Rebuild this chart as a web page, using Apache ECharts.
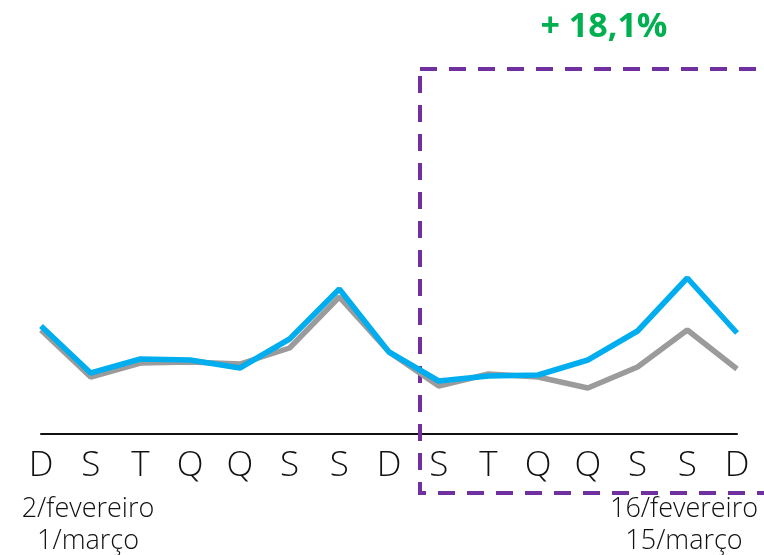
<!DOCTYPE html>
<html><head><meta charset="utf-8">
<script src="https://cdn.jsdelivr.net/npm/echarts@6/dist/echarts.min.js"></script>
<style>html,body{margin:0;padding:0;background:#fff}#c{width:764px;height:555px}</style>
</head><body><div id="c"></div>
<script>
const categories = ['D','S','T','Q','Q','S','S','D','S','T','Q','Q','S','S','D'];
const seriesCurrent = [108, 61, 75, 74, 66, 95, 145, 82, 53, 58, 59, 74, 103, 156, 101];
const seriesPrevious = [104, 57, 71, 72, 70, 86, 137, 82, 48, 60, 57, 46, 67, 104, 65];
const growthLabel = '+ 18,1%';
const startLabel = ['2/fevereiro', '1/março'];
const endLabel = ['16/fevereiro', '15/março'];

const chart = echarts.init(document.getElementById('c'), null, {renderer: 'canvas'});
const font = "'Open Sans', 'Lato', sans-serif";
const small = "300 27px 'Open Sans', sans-serif";
chart.setOption({
  animation: false,
  grid: {left: 41, right: 27, top: 234, bottom: 121},
  xAxis: {
    type: 'category', data: categories, boundaryGap: false,
    axisLine: {lineStyle: {color: '#111', width: 2}},
    axisTick: {show: false},
    axisLabel: {color: '#111', fontSize: 35, fontWeight: 300, fontFamily: font, margin: 15, interval: 0}
  },
  yAxis: {type: 'value', min: 0, max: 200, show: false, splitLine: {show: false}},
  series: [
    {type: 'line', data: seriesPrevious, symbol: 'none', lineStyle: {color: '#9B9B9B', width: 5.5}, z: 2},
    {type: 'line', data: seriesCurrent, symbol: 'none', lineStyle: {color: '#00AEEF', width: 5.5}, z: 3}
  ],
  graphic: [
    {type: 'rect', shape: {x: 420, y: 69, width: 400, height: 424},
     style: {fill: 'none', stroke: '#7030A0', lineWidth: 4, lineDash: [17, 12]}, z: 1},
    {type: 'text', x: 604, y: 27, style: {text: growthLabel, fill: '#00B050', font: "bold 34px 'Open Sans', sans-serif", textAlign: 'center', textVerticalAlign: 'middle'}},
    {type: 'text', x: 88, y: 509, style: {text: startLabel[0], fill: '#111', font: small, textAlign: 'center', textVerticalAlign: 'middle'}},
    {type: 'text', x: 88, y: 541, style: {text: startLabel[1], fill: '#111', font: small, textAlign: 'center', textVerticalAlign: 'middle'}},
    {type: 'text', x: 684, y: 509, style: {text: endLabel[0], fill: '#111', font: small, textAlign: 'center', textVerticalAlign: 'middle'}},
    {type: 'text', x: 684, y: 541, style: {text: endLabel[1], fill: '#111', font: small, textAlign: 'center', textVerticalAlign: 'middle'}}
  ]
});
</script></body></html>
